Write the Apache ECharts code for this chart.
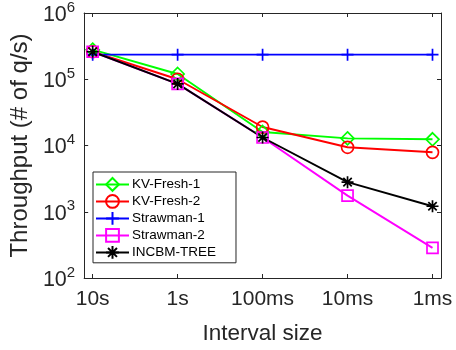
<!DOCTYPE html>
<html>
<head>
<meta charset="utf-8">
<script src="https://cdn.jsdelivr.net/npm/echarts@6/dist/echarts.min.js"></script>
<style>
  html, body { margin: 0; padding: 0; background: #fff; }
  #chart { width: 456px; height: 350px; }
</style>
</head>
<body>
<div id="chart"></div>
<script>
// Interval sizes along the x axis
const intervals = ['10s', '1s', '100ms', '10ms', '1ms'];

// Throughput (queries per second) for each scheme
const kvFresh1   = [280000, 120000, 16000, 12800, 12400];
const kvFresh2   = [260000, 100000, 19000, 9400, 7900];
const strawman1  = [235000, 235000, 235000, 235000, 235000];
const strawman2  = [260000, 85000, 13200, 1750, 285];
const incbmTree  = [260000, 85000, 13200, 2800, 1210];

const seriesNames = ['KV-Fresh-1', 'KV-Fresh-2', 'Strawman-1', 'Strawman-2', 'INCBM-TREE'];

const FONT = '"Liberation Sans", Arial, Helvetica, sans-serif';
const AXIS_COLOR = '#262626';

const plusPath = 'path://M0,-10L0,10M-10,0L10,0';
const starPath = 'path://M0,-10L0,10M-10,0L10,0M-7,-7L7,7M-7,7L7,-7';

function toPoints(values) {
  return values.map((v, i) => [i + 1, v]);
}

function makeSeries(name, values, color, symbol, size) {
  return {
    name: name,
    type: 'line',
    data: toPoints(values),
    symbol: symbol,
    symbolSize: size,
    symbolKeepAspect: true,
    showAllSymbol: true,
    lineStyle: { color: color, width: 1.9 },
    itemStyle: { color: 'rgba(0,0,0,0)', borderColor: color, borderWidth: 1.7 },
    emphasis: { disabled: true },
    animation: false
  };
}

const chart = echarts.init(document.getElementById('chart'), null, { renderer: 'canvas' });

const xCommon = {
  type: 'value',
  min: 0.9,
  max: 5.1,
  splitLine: { show: false },
  axisLine: { show: true, onZero: false, lineStyle: { color: AXIS_COLOR, width: 1 } },
  axisTick: { show: true, inside: true, length: 4, customValues: [1, 2, 3, 4, 5], lineStyle: { color: AXIS_COLOR } }
};

const yCommon = {
  type: 'log',
  logBase: 10,
  min: 100,
  max: 1000000,
  splitLine: { show: false },
  minorTick: { show: false },
  axisLine: { show: true, onZero: false, lineStyle: { color: AXIS_COLOR, width: 1 } },
  axisTick: { show: true, inside: true, length: 4, lineStyle: { color: AXIS_COLOR } }
};

chart.setOption({
  backgroundColor: '#fff',
  animation: false,
  grid: { left: 81.5, right: 15, top: 12, bottom: 71, containLabel: false },
  xAxis: [
    Object.assign({}, xCommon, {
      position: 'bottom',
      name: 'Interval size',
      nameLocation: 'middle',
      nameGap: 44,
      nameTextStyle: { fontFamily: FONT, fontSize: 22.5, color: AXIS_COLOR },
      axisLabel: {
        show: true,
        customValues: [1, 2, 3, 4, 5],
        margin: 11,
        fontFamily: FONT,
        fontSize: 21,
        color: AXIS_COLOR,
        formatter: v => intervals[Math.round(v) - 1]
      }
    }),
    Object.assign({}, xCommon, { position: 'top', axisLabel: { show: false } })
  ],
  yAxis: [
    Object.assign({}, yCommon, {
      position: 'left',
      name: 'Throughput (# of q/s)',
      nameLocation: 'middle',
      nameGap: 47,
      nameTextStyle: { fontFamily: FONT, fontSize: 24, color: AXIS_COLOR },
      axisLabel: {
        show: true,
        margin: 9,
        color: AXIS_COLOR,
        formatter: v => '{b|10}{s|' + Math.round(Math.log10(v)) + '}',
        rich: {
          b: { fontFamily: FONT, fontSize: 21.5, color: AXIS_COLOR, padding: [4, 0, 0, 0] },
          s: { fontFamily: FONT, fontSize: 15, color: AXIS_COLOR, padding: [0, 0, 11, 0] }
        }
      }
    }),
    Object.assign({}, yCommon, { position: 'right', axisLabel: { show: false } })
  ],
  legend: {
    orient: 'vertical',
    left: 93,
    top: 172,
    padding: [5, 20, 3, 2],
    itemWidth: 33,
    itemHeight: 16,
    itemGap: 2.2,
    backgroundColor: '#fff',
    borderColor: AXIS_COLOR,
    borderWidth: 1,
    borderRadius: 0,
    textStyle: { fontFamily: FONT, fontSize: 13.5, color: '#000', padding: [0, 0, 0, -2] },
    data: seriesNames
  },
  series: [
    makeSeries(seriesNames[0], kvFresh1, '#00ff00', 'diamond', 13),
    makeSeries(seriesNames[1], kvFresh2, '#ff0000', 'circle', 12),
    makeSeries(seriesNames[2], strawman1, '#0000ff', plusPath, 12),
    makeSeries(seriesNames[3], strawman2, '#ff00ff', 'rect', 11),
    makeSeries(seriesNames[4], incbmTree, '#000000', starPath, 12)
  ]
});
</script>
</body>
</html>
